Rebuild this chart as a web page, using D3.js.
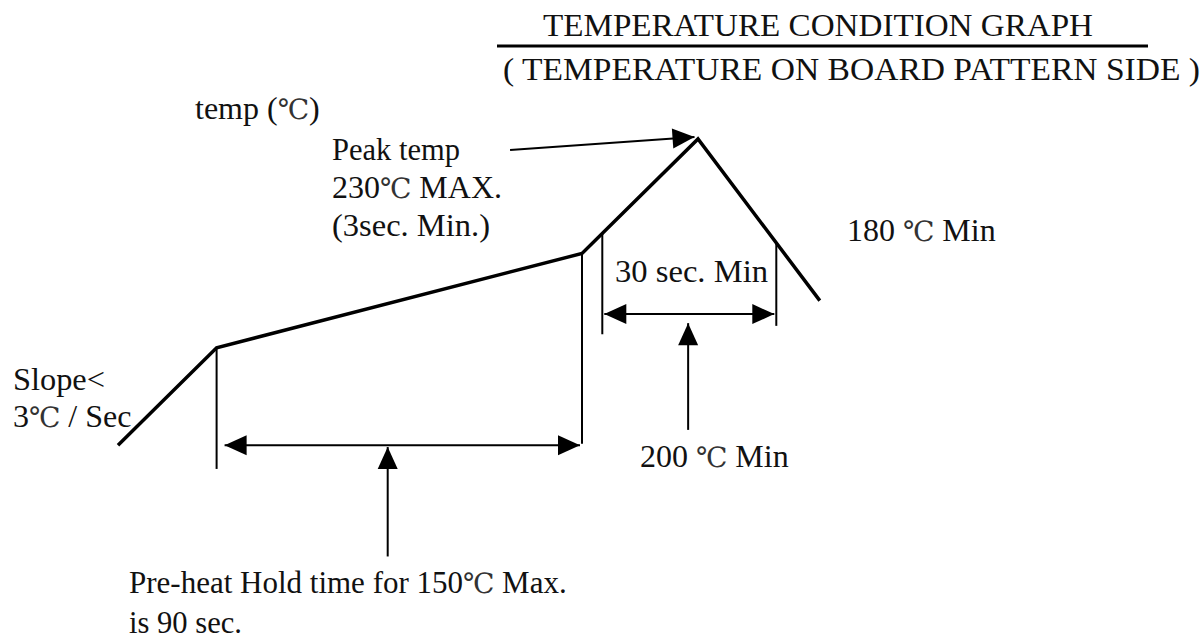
<!DOCTYPE html>
<html>
<head>
<meta charset="utf-8">
<script src="https://cdn.jsdelivr.net/npm/d3@7"></script>
<style>
  body { margin: 0; background: #fff; }
  text { font-family: "Liberation Serif", "Times New Roman", serif; font-size: 32px; fill: #111; }
  tspan.deg { font-family: "DejaVu Serif", serif; font-size: 28px; fill: #333; }
</style>
</head>
<body>
<script>
// reflow profile (time in sec, temp in deg C) - schematic
var profileTime = [0, 17, 80, 100, 121];
var profileTemp = [139, 168, 196, 230, 182];

// pre-heat hold window and the 200C window
var preheatTime = [17, 80];
var preheatLineEnd = [132, 139.5];
var preheatArrowTemp = 139;
var reflowTime = [83.5, 113.5];
var reflowLineEnd = [172, 174.5];
var reflowArrowTemp = 178;

// pointer arrows [t0, T0, t1, T1]
var peakPointer = [67.6, 226.7, 99.4, 230.6];
var preheatPointer = [46.5, 106, 46.5, 138.5];
var reflowPointer = [98.3, 143.6, 98.3, 175.3];

var titleLines = ["TEMPERATURE CONDITION GRAPH", "( TEMPERATURE ON BOARD PATTERN SIDE )"];
var yAxisLabel = "temp (\u2103)";
var peakNote = ["Peak temp", "230\u2103 MAX.", "(3sec. Min.)"];
var slopeNote = ["Slope<", "3\u2103 / Sec"];
var coolNote = "180 \u2103 Min";
var windowNote = "30 sec. Min";
var windowTempNote = "200 \u2103 Min";
var preheatNote = ["Pre-heat Hold time for 150\u2103 Max.", "is 90 sec."];

var width = 1203, height = 642;

var svg = d3.select('body').append('svg')
  .attr('width', width).attr('height', height);

var x = d3.scaleLinear().domain([0, 100]).range([118, 698]);
var y = d3.scaleLinear().domain([200, 230]).range([240, 139]);

var profile = profileTime.map(function(t, i) { return [t, profileTemp[i]]; });

// temp on the profile at time t
var tempAt = function(t) {
  for (var i = 1; i < profile.length; i++) {
    if (t <= profile[i][0]) {
      var a = profile[i - 1], b = profile[i];
      return a[1] + (b[1] - a[1]) * (t - a[0]) / (b[0] - a[0]);
    }
  }
  return profile[profile.length - 1][1];
};

var line = d3.line()
  .x(function(d) { return x(d[0]); })
  .y(function(d) { return y(d[1]); });

svg.append('path')
  .datum(profile)
  .attr('d', line)
  .attr('fill', 'none')
  .attr('stroke', '#000')
  .attr('stroke-width', 3.5)
  .attr('stroke-linejoin', 'miter');

// vertical marker lines
var markers = [];
preheatTime.forEach(function(t, i) { markers.push([t, tempAt(t), preheatLineEnd[i]]); });
reflowTime.forEach(function(t, i) { markers.push([t, tempAt(t), reflowLineEnd[i]]); });

svg.selectAll('line.marker')
  .data(markers)
  .enter().append('line')
  .attr('class', 'marker')
  .attr('x1', function(d) { return x(d[0]); })
  .attr('x2', function(d) { return x(d[0]); })
  .attr('y1', function(d) { return y(d[1]); })
  .attr('y2', function(d) { return y(d[2]); })
  .attr('stroke', '#000')
  .attr('stroke-width', 2);

// arrow with filled triangle head at (x1,y1)
var arrowHead = function(px0, py0, px1, py1) {
  var dx = px1 - px0, dy = py1 - py0, len = Math.sqrt(dx * dx + dy * dy);
  var ux = dx / len, uy = dy / len, L = 22, W = 10;
  var bx = px1 - ux * L, by = py1 - uy * L;
  svg.append('path')
    .attr('d', 'M' + px1 + ',' + py1 + 'L' + (bx - uy * W) + ',' + (by + ux * W) +
      'L' + (bx + uy * W) + ',' + (by - ux * W) + 'Z')
    .attr('fill', '#000');
};

var arrow = function(px0, py0, px1, py1, both) {
  svg.append('line')
    .attr('x1', px0).attr('y1', py0).attr('x2', px1).attr('y2', py1)
    .attr('stroke', '#000').attr('stroke-width', 2);
  arrowHead(px0, py0, px1, py1);
  if (both) arrowHead(px1, py1, px0, py0);
};

var gap = 2;
arrow(x(preheatTime[0]) + 8, y(preheatArrowTemp), x(preheatTime[1]) - gap, y(preheatArrowTemp), true);
arrow(x(reflowTime[0]) + gap, y(reflowArrowTemp), x(reflowTime[1]) - gap, y(reflowArrowTemp), true);
[peakPointer, preheatPointer, reflowPointer].forEach(function(p) {
  arrow(x(p[0]), y(p[1]), x(p[2]), y(p[3]), false);
});

// title + rule
svg.append('line')
  .attr('x1', 497).attr('x2', 1148).attr('y1', 46).attr('y2', 46)
  .attr('stroke', '#000').attr('stroke-width', 3);

// text; the degree sign gets its own tspan, no squeezing on those lines
var label = function(txt, px, py, w) {
  var t = svg.append('text').attr('x', px).attr('y', py);
  var parts = txt.split('\u2103');
  parts.forEach(function(part, i) {
    if (i > 0) t.append('tspan').attr('class', 'deg').text('\u2103');
    if (part) t.append('tspan').text(part);
  });
  if (w && parts.length == 1) t.attr('textLength', w).attr('lengthAdjust', 'spacingAndGlyphs');
  return t;
};

label(titleLines[0], 543, 36, 550);
label(titleLines[1], 503, 80, 697);
label(yAxisLabel, 195, 119);
label(peakNote[0], 332, 160, 128);
label(peakNote[1], 332, 198);
label(peakNote[2], 332, 236, 158);
label(coolNote, 847, 241);
label(windowNote, 615, 282, 153);
label(slopeNote[0], 13, 390, 92);
label(slopeNote[1], 13, 427);
label(windowTempNote, 640, 467);
label(preheatNote[0], 129, 593).style('font-size', '31px');
label(preheatNote[1], 129, 633, 113);
</script>
</body>
</html>
